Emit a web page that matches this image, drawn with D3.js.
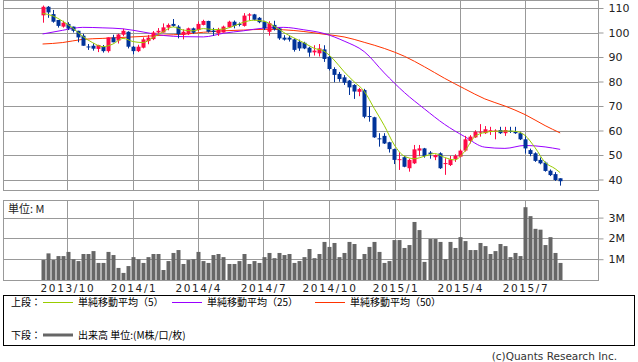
<!DOCTYPE html>
<html lang="ja">
<head>
<meta charset="utf-8">
<title>chart</title>
<style>
  body { margin: 0; background: #fff; }
  text { font-family: "DejaVu Sans", sans-serif; }
  .jp { font-family: "Noto Sans CJK JP", sans-serif; }
</style>
</head>
<body>
<svg width="638" height="362"></svg>
<script src="https://cdn.jsdelivr.net/npm/d3@7"></script>
<script>
// weekly bars, first week and OHLC in yen
var firstWeek = "2013-08-28";
var open = [107,110.5,107.5,105.1,102.4,103.5,102.4,100.7,98.7,94.3,
  94.6,93.3,94.2,92.4,98,96.7,99.1,100.3,94.2,92.4,
  93.8,96.5,97.3,100,100,102,103.5,102.4,99,99.3,
  101.7,101,103.1,104.7,100.8,99.7,100,102.1,104.4,103.5,
  102.7,106.9,107.4,106,104.4,100.3,103.1,101.7,97.9,97.9,
  97.2,96.2,95.8,93.8,91.9,91.5,93.1,90.1,85.1,83.1,
  81.7,80.4,78.6,75.8,76.5,65.9,65.4,56.8,57.8,55.2,
  52.4,48.1,49.1,44.6,46.6,51.8,52.7,51,49.1,50.7,
  46.5,45.9,48.4,49.3,51.8,55.7,57.2,59.1,58.9,59.5,
  59.5,60.2,58.9,59.9,59.5,58.9,56.4,52,50.7,48,
  46.9,43.6,42.2,40.5];
var high = [111,110.8,109.2,105.1,104.8,104.2,102.4,100.7,99.5,95.3,
  95.6,95,94.9,98,99.1,99.5,101.5,100.5,94.5,95,
  98,99,100.6,101.8,103.7,103.7,105.5,103,101.3,102,
  102,104.5,105.2,104.8,101.9,101.9,102.8,104.8,104.9,104.1,
  107.9,107.9,107.6,106.3,104.8,104.6,104.8,101.9,98.9,98.6,
  97.6,97.1,96.2,94.2,94.8,95.3,94.8,90.5,85.8,83.9,
  82.6,80.6,78.9,77.4,77,69.8,65.6,58.9,58.9,55.4,
  52.6,51.1,49.6,48.5,54.1,54.1,52.9,51.6,50.2,51.1,
  48.7,49.6,50.3,52.3,57.8,58.1,60.1,62.6,61.8,61.5,
  60.5,61.5,61.5,61.5,61.5,59.5,58.2,52.6,51.1,49,
  47.3,44.1,43,40.5];
var low = [104,106,104,102,102,101,100,96,94.6,92.9,
  92.6,92,91.8,91.8,96,95.5,98.5,93.5,91.1,92,
  93.5,95.2,96.9,99.5,100,100.9,102.3,97.6,97.2,99,
  99.5,100.5,102.9,100,98.6,98.6,100,101.8,101.7,102.5,
  102.4,105,105,103.8,101,98.7,100.8,97,96.7,96.3,
  92.2,92.5,93.2,90.1,90.6,90.2,88,84.5,79.7,79.9,
  78.6,74.5,72.9,74,65,63.6,57,53.4,54.5,51,
  46.3,43.9,45,43.2,46.3,49.5,48.9,48.5,47.9,44.3,
  41.9,45.5,47.2,49,51.4,54.7,57,57.5,58.6,58.2,
  56.4,58.6,57.8,59,58.6,56.1,50.6,49.5,47.2,46.2,
  43.2,41.4,39.4,37.5];
var close = [110.5,108.2,104.4,102.7,104,101.6,100.7,98,94.6,94.1,
  93.4,94.9,92.4,98,96,99.2,100.7,94.2,92.4,94.2,
  97.2,97.9,100,100.7,102.1,103.1,102.7,99.3,100.3,101.7,
  99.9,103.5,104.7,100.3,100.2,101.3,102.4,104.4,102.7,103.2,
  106.9,107.4,105.2,104.2,101.7,103.8,101.3,97.6,97.1,97.1,
  92.9,93.5,93.5,91.8,92.6,93.5,89.2,85.1,82.7,81,
  79.5,77.6,75.9,76.9,65.6,65.8,57.2,56.6,54.7,52.4,
  48,48.3,45.2,48,52.3,52.7,49.6,50.4,50,44.6,
  46.7,48.2,49.7,51.8,56.4,57.5,59.5,59.5,60.5,60.1,
  60,58.9,60.2,59.4,58.9,56.4,52.7,50.4,47.6,46.6,
  43.5,41.8,39.8,39.3];
// volume in millions
var volume = [0.96,1.28,0.96,1.15,1.15,1.35,1.0,0.91,1.25,1.25,
  1.39,0.82,0.82,1.35,1.2,0.58,0.34,0.67,1.1,1.0,
  0.82,1.1,1.25,1.25,0.48,0.91,1.3,1.44,0.77,0.96,
  1.0,1.35,0.91,0.82,1.2,1.25,1.1,0.77,0.77,0.91,
  1.25,0.77,0.91,0.82,1.1,1.3,1.05,1.3,1.2,1.25,
  0.82,0.91,1.1,1.49,1.05,1.25,1.83,1.59,1.78,1.1,
  1.3,1.83,1.73,1.0,1.25,1.59,1.83,1.35,0.82,0.91,
  1.92,1.92,1.54,1.68,2.79,2.4,0.87,1.97,1.97,1.83,
  1.0,1.83,1.54,2.06,1.87,1.44,1.44,1.78,1.63,1.25,
  1.39,1.73,1.63,1.1,1.3,1.15,3.5,3.07,2.46,2.42,
  1.68,2.06,1.3,0.82];

// moving averages (week index -> value)
var ma5Weeks = [0,2,4,6,8,10,12,14,16,18,20,22,24,26,28,30,32,34,36,38,40,42,44,46,48,50,
  52,54,56,58,60,62,64,66,68,70,72,74,76,78,80,82,84,86,88,90,92,94,96,98,100,102,103];
var ma5 = [107.8,106.8,104.6,101.8,98.4,95.8,94.2,95.3,97.6,96.3,95.9,98.0,100.3,102.3,101.0,100.7,101.6,101.2,101.4,102.6,104.2,105.0,104.6,102.7,100.0,97.8,
  95.8,93.6,92.4,88.8,84.0,79.9,76.0,69.0,62.0,54.1,49.5,48.5,49.5,50.6,49.0,48.0,51.5,57.5,59.2,59.7,59.8,59.7,58.0,53.0,47.0,44.4,42.8];
var ma25Weeks = [0,4,8,12,16,20,24,28,32,36,40,44,48,52,56,60,64,68,72,76,80,84,88,92,96,100,103];
var ma25 = [99.4,100.9,102.1,101.9,101.5,100.2,98.8,98.3,98.2,99.7,100.7,101.8,102.1,101.1,99.6,96.5,92.2,83.5,75.5,68.8,62.5,57.5,53.2,52.7,53.9,53.3,52.3];
var ma50Weeks = [0,4,8,12,16,20,24,28,32,36,40,44,48,52,56,60,64,68,72,76,80,84,88,92,96,100,103];
var ma50 = [95.3,95.9,97.2,97.6,98.0,98.4,98.9,99.3,100.1,100.7,101.0,101.3,101.1,100.4,99.3,98.2,96.0,93.5,90.3,86.0,81.3,77.0,72.9,70.0,66.5,62.0,59.0];

var priceTicks = [40,50,60,70,80,90,100,110];
var volTicks = [1,2,3];
var quarterStarts = ["2013-10-01","2014-01-01","2014-04-01","2014-07-01","2014-10-01","2015-01-01","2015-04-01","2015-07-01"];

var svg = d3.select("svg"),
    left = 3.5, right = 598.5,
    pTop = 0.5, pBottom = 190.5,
    vTop = 200.5, vBottom = 280.5;

var parse = d3.timeParse("%Y-%m-%d");
var start = parse(firstWeek);
var weeks = open.map(function(d, i) { return d3.timeDay.offset(start, 7 * i); });
var quarters = quarterStarts.map(parse);

var x = d3.scaleTime().domain([quarters[0], quarters[quarters.length - 1]]).range([67, 525]);
var y = d3.scaleLinear().domain([40, 110]).range([179.5, 8]);
var yv = d3.scaleLinear().domain([0, 3]).range([280, 217.6]);

var red = "#ff0a46", blue = "#003399", grid = "#999";

function panel(top, bottom, yScale, ticks, fmt) {
  var g = svg.append("g");
  g.append("g")
    .attr("transform", "translate(" + right + ",0)")
    .call(d3.axisRight(yScale).tickValues(ticks).tickSize(5).tickFormat(fmt))
    .call(function(a) {
      a.select(".domain").remove();
      a.selectAll("line").attr("stroke", grid);
      a.selectAll("text").attr("x", 10).attr("fill", "#222").style("font-size", "11px");
    });
  g.selectAll(".hg").data(ticks).enter().append("line")
    .attr("x1", left).attr("x2", right)
    .attr("y1", function(d) { return Math.round(yScale(d)) + 0.5; })
    .attr("y2", function(d) { return Math.round(yScale(d)) + 0.5; })
    .attr("stroke", grid);
  g.selectAll(".vg").data(quarters).enter().append("line")
    .attr("x1", function(d) { return Math.round(x(d)) + 0.5; })
    .attr("x2", function(d) { return Math.round(x(d)) + 0.5; })
    .attr("y1", top).attr("y2", bottom)
    .attr("stroke", grid);
  g.append("rect")
    .attr("x", left).attr("y", top)
    .attr("width", right - left).attr("height", bottom - top)
    .attr("fill", "none").attr("stroke", grid);
  return g;
}

panel(pTop, pBottom, y, priceTicks, d3.format("d"));
panel(vTop, vBottom, yv, volTicks, function(d) { return d + "M"; });

// moving averages
function maLine(idx, vals, color) {
  var pts = idx.map(function(k, j) { return [weeks[k], vals[j]]; });
  svg.append("path")
    .datum(pts)
    .attr("fill", "none")
    .attr("stroke", color)
    .attr("stroke-width", 1)
    .attr("d", d3.line().x(function(d) { return x(d[0]); }).y(function(d) { return y(d[1]); }).curve(d3.curveMonotoneX));
}
maLine(ma50Weeks, ma50, "#ff3300");
maLine(ma25Weeks, ma25, "#9900ff");

// candles
var candle = svg.append("g").selectAll("g")
  .data(weeks)
  .enter().append("g");

candle.append("line")
  .attr("x1", function(d) { return Math.round(x(d)) + 0.5; })
  .attr("x2", function(d) { return Math.round(x(d)) + 0.5; })
  .attr("y1", function(d, i) { return y(high[i]); })
  .attr("y2", function(d, i) { return y(low[i]); })
  .attr("stroke", function(d, i) { return close[i] >= open[i] ? red : blue; });

candle.append("rect")
  .attr("x", function(d) { return Math.round(x(d)) - 1.5; })
  .attr("width", 4)
  .attr("y", function(d, i) { return y(Math.max(open[i], close[i])); })
  .attr("height", function(d, i) { return Math.max(1, Math.abs(y(open[i]) - y(close[i]))); })
  .attr("fill", function(d, i) { return close[i] >= open[i] ? red : blue; });

maLine(ma5Weeks, ma5, "#99cc00");

// volume
svg.append("g").selectAll("rect")
  .data(volume)
  .enter().append("rect")
  .attr("x", function(d, i) { return Math.round(x(weeks[i])) - 1.5; })
  .attr("width", 4)
  .attr("y", function(d) { return yv(d); })
  .attr("height", function(d) { return yv(0) - yv(d); })
  .attr("fill", "#666");

svg.append("text").attr("class", "jp")
  .attr("x", 8).attr("y", 213)
  .style("font-size", "11px").attr("fill", "#222")
  .text("単位: M");

// date labels
svg.append("g").selectAll("text")
  .data(quarters)
  .enter().append("text")
  .attr("x", function(d) { return x(d) + 1; })
  .attr("y", 292)
  .attr("text-anchor", "middle")
  .style("font-size", "10.5px")
  .style("letter-spacing", "1.6px")
  .attr("fill", "#222")
  .text(d3.timeFormat("%Y/%-m"));

// legend
svg.append("rect")
  .attr("x", 3.5).attr("y", 295.5)
  .attr("width", 631).attr("height", 50)
  .attr("fill", "none").attr("stroke", "#000");

var legend = [
  {x: 43, text: "単純移動平均（5）", color: "#99cc00"},
  {x: 172, text: "単純移動平均（25）", color: "#9900ff"},
  {x: 315, text: "単純移動平均（50）", color: "#ff3300"}
];
svg.append("text").attr("class", "jp").attr("x", 11).attr("y", 306)
  .style("font-size", "10px").text("上段：");
legend.forEach(function(l) {
  svg.append("line").attr("x1", l.x).attr("x2", l.x + 30)
    .attr("y1", 302.5).attr("y2", 302.5).attr("stroke", l.color);
  svg.append("text").attr("class", "jp").attr("x", l.x + 35).attr("y", 306)
    .style("font-size", "10px").text(l.text);
});
svg.append("text").attr("class", "jp").attr("x", 11).attr("y", 339)
  .style("font-size", "10px").text("下段：");
svg.append("line").attr("x1", 43).attr("x2", 73)
  .attr("y1", 335).attr("y2", 335).attr("stroke", "#666").attr("stroke-width", 3);
svg.append("text").attr("class", "jp").attr("x", 78).attr("y", 339)
  .style("font-size", "10px").text("出来高 単位:(M株/口/枚)");

svg.append("text")
  .attr("x", 617).attr("y", 360)
  .attr("text-anchor", "end")
  .style("font-size", "10.5px").attr("fill", "#333")
  .text("(c)Quants Research Inc.");
</script>
</body>
</html>
